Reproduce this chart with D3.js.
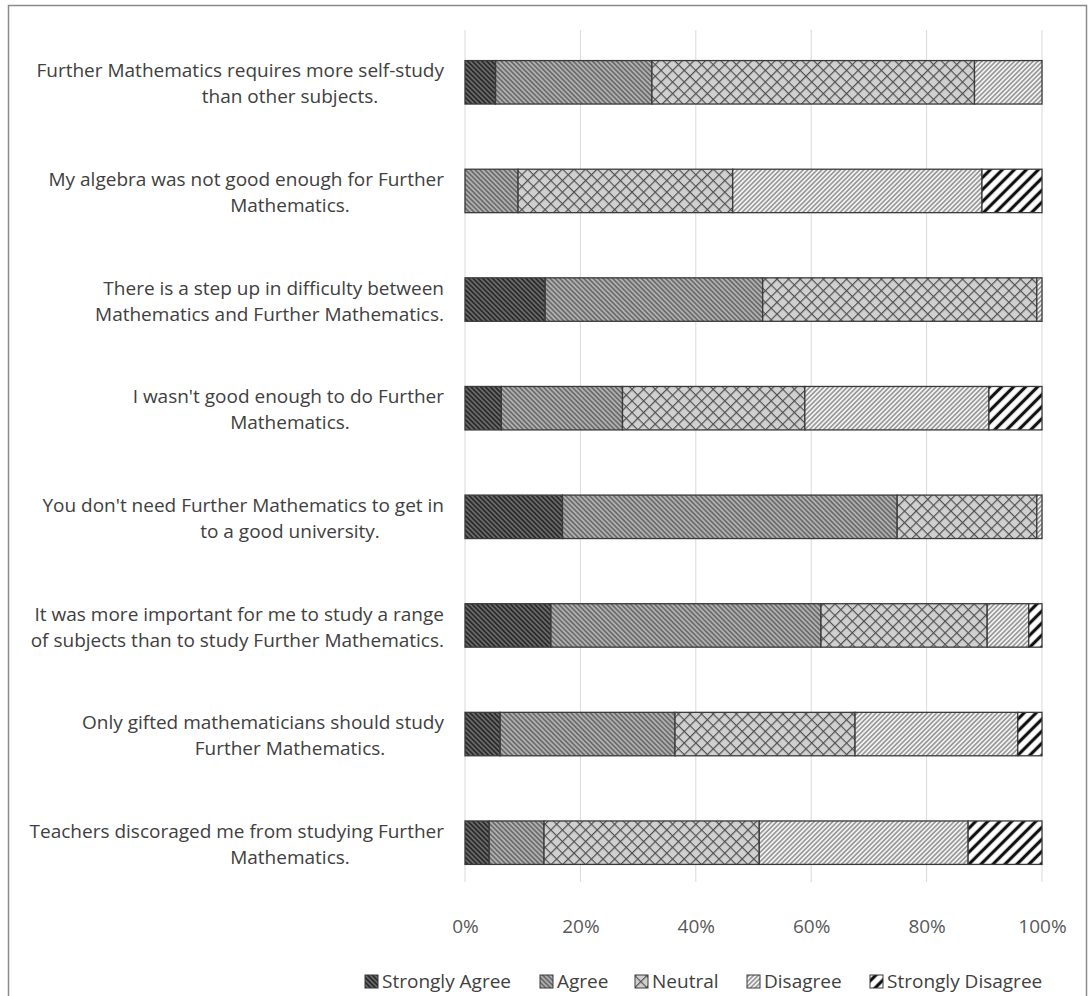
<!DOCTYPE html>
<html>
<head>
<meta charset="utf-8">
<script src="https://cdn.jsdelivr.net/npm/d3@7/dist/d3.min.js"></script>
<style>
  html, body { margin: 0; padding: 0; background: #fff; }
  svg { display: block; }
  text { font-family: "Open Sans", "Liberation Sans", sans-serif; }
</style>
</head>
<body>
<svg id="chart" width="1090" height="996"></svg>
<script>
// Survey statements (two lines each, as printed)
const statements = [
  ["Further Mathematics requires more self-study", "than other subjects."],
  ["My algebra was not good enough for Further", "Mathematics."],
  ["There is a step up in difficulty between", "Mathematics and Further Mathematics."],
  ["I wasn't good enough to do Further", "Mathematics."],
  ["You don't need Further Mathematics to get in", "to a good university."],
  ["It was more important for me to study a range", "of subjects than to study Further Mathematics."],
  ["Only gifted mathematicians should study", "Further Mathematics."],
  ["Teachers discoraged me from studying Further", "Mathematics."]
];

const responses = ["Strongly Agree", "Agree", "Neutral", "Disagree", "Strongly Disagree"];

// Share of responses (%) per statement, in statement order
const stronglyAgree    = [5.3,  0.0, 13.9,  6.3, 16.9, 14.9,  6.1,  4.2];
const agree            = [27.1, 9.2, 37.7, 21.0, 58.0, 46.8, 30.3,  9.5];
const neutral          = [55.9, 37.2, 47.5, 31.6, 24.2, 28.8, 31.2, 37.3];
const disagree         = [11.7, 43.2,  0.9, 31.9,  0.9,  7.2, 28.2, 36.2];
const stronglyDisagree = [0.0, 10.4,  0.0,  9.2,  0.0,  2.3,  4.2, 12.8];

const tickValues = [0, 0.2, 0.4, 0.6, 0.8, 1.0];

const seriesValues = [stronglyAgree, agree, neutral, disagree, stronglyDisagree];
const rows = statements.map((s, i) => {
  const r = { id: i };
  responses.forEach((k, j) => { r[k] = seriesValues[j][i]; });
  return r;
});
const stacked = d3.stack().keys(responses).offset(d3.stackOffsetExpand)(rows);

const svg = d3.select("#chart");
const defs = svg.append("defs");
const FONT = 19;

// Hatch fills for each response level
function hatch(id, size, angle, bg, stroke, width) {
  const p = defs.append("pattern")
    .attr("id", id).attr("patternUnits", "userSpaceOnUse")
    .attr("width", size).attr("height", size)
    .attr("patternTransform", `rotate(${angle})`);
  p.append("rect").attr("width", size).attr("height", size).attr("fill", bg);
  p.append("line").attr("x1", size / 2).attr("y1", 0).attr("x2", size / 2).attr("y2", size)
    .attr("stroke", stroke).attr("stroke-width", width);
}
hatch("p0", 3.4, -45, "#6a6a6a", "#262626", 1.6);
hatch("p1", 3.4, -45, "#b0b0b0", "#505050", 1.2);
hatch("p3", 3.3, 45, "#f2f2f2", "#6e6e6e", 1.1);
hatch("p4", 8.5, 45, "#ffffff", "#111111", 3.2);
{
  const s = 8.2;
  const p = defs.append("pattern")
    .attr("id", "p2").attr("patternUnits", "userSpaceOnUse")
    .attr("width", s).attr("height", s)
    .attr("patternTransform", "rotate(45)");
  p.append("rect").attr("width", s).attr("height", s).attr("fill", "#d0d0d0");
  p.append("path").attr("d", `M0,0V${s}M0,0H${s}`)
    .attr("stroke", "#505050").attr("stroke-width", 2.4).attr("fill", "none");
}
const fillFor = d3.scaleOrdinal().domain(responses).range(["url(#p0)", "url(#p1)", "url(#p2)", "url(#p3)", "url(#p4)"]);

// Outer frame
svg.append("rect")
  .attr("x", 8.5).attr("y", 5.5).attr("width", 1078).attr("height", 1010)
  .attr("fill", "none").attr("stroke", "#8a8a8a").attr("stroke-width", 1.5);

const x = d3.scaleLinear().domain([0, 1]).range([465, 1042]);
const y = d3.scaleBand().domain(d3.range(statements.length))
  .range([28, 897]).paddingInner(0.6).paddingOuter(0.3);

// Vertical gridlines
svg.append("g").selectAll("line").data(tickValues).join("line")
  .attr("x1", d => x(d)).attr("x2", d => x(d))
  .attr("y1", 30).attr("y2", 882)
  .attr("stroke", "#d9d9d9").attr("stroke-width", 1);

// Stacked bars
svg.append("g").selectAll("g").data(stacked).join("g")
  .attr("fill", d => fillFor(d.key))
  .selectAll("rect").data(d => d.filter(s => s[1] - s[0] > 0)).join("rect")
  .attr("x", d => x(d[0]))
  .attr("width", d => x(d[1]) - x(d[0]))
  .attr("y", d => y(d.data.id))
  .attr("height", y.bandwidth())
  .attr("stroke", "#3a3a3a").attr("stroke-width", 1.3);

// Category labels: first line flush right; a continuation line is centred
// under the label block unless it is too long, then it is flush right too.
const labelRight = 444, wrapCentre = 290;
const labels = svg.append("g");
statements.forEach((lines, i) => {
  const cy = y(i) + y.bandwidth() / 2;
  lines.forEach((ln, k) => {
    const t = labels.append("text")
      .attr("font-size", FONT).attr("fill", "#404040")
      .attr("y", cy + (k === 0 ? -11.5 : 14.5)).attr("dy", "0.35em")
      .text(ln);
    const w = t.node().getComputedTextLength();
    const x0 = k === 0 ? labelRight - w : Math.min(wrapCentre - w / 2, labelRight - w);
    t.attr("x", x0);
  });
});

// X axis tick labels
const xAxis = d3.axisBottom(x).tickValues(tickValues).tickFormat(d3.format(".0%")).tickSize(0).tickPadding(0);
const ax = svg.append("g").attr("transform", "translate(0,926)").call(xAxis);
ax.select(".domain").remove();
ax.selectAll("text").attr("font-size", FONT).attr("fill", "#595959")
  .attr("font-family", "'Open Sans', sans-serif").attr("dy", "0.35em");

// Legend
const legendX = [365, 540, 635, 747, 870];
const legend = svg.append("g");
responses.forEach((k, i) => {
  const g = legend.append("g").attr("transform", `translate(${legendX[i]},975)`);
  g.append("rect").attr("width", 13).attr("height", 13)
    .attr("fill", fillFor(k)).attr("stroke", "#3a3a3a").attr("stroke-width", 1);
  g.append("text").attr("x", 17).attr("y", 6.5).attr("dy", "0.35em")
    .attr("font-size", FONT).attr("fill", "#404040").text(k);
});
</script>
</body>
</html>
